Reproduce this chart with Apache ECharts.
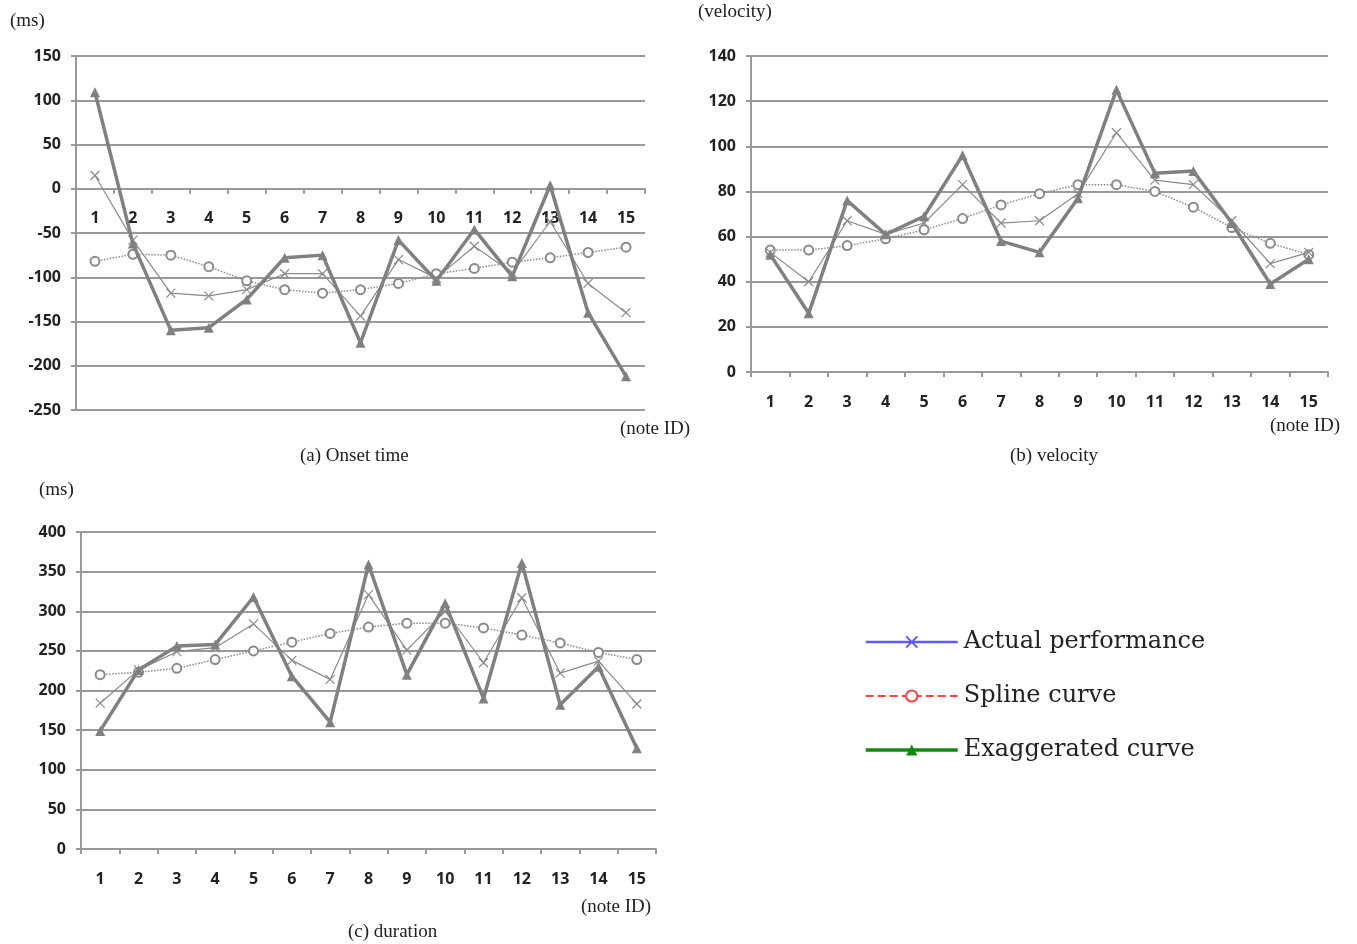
<!DOCTYPE html>
<html>
<head>
<meta charset="utf-8">
<title>Onset time, velocity and duration</title>
<script src="https://cdn.jsdelivr.net/npm/echarts@6/dist/echarts.min.js"></script>
<style>
    html, body { margin: 0; padding: 0; background: #fff; }
    #main_chart { width: 1357px; height: 944px; }
</style>
</head>
<body>
<div id="main_chart"></div>
<script>

// Data
// ------------------------------

var noteIds = ['1', '2', '3', '4', '5', '6', '7', '8', '9', '10', '11', '12', '13', '14', '15'];

// (a) onset time, ms
var onsetActual = [15, -58, -118, -121, -114, -96, -96, -144, -80, -101, -65, -95, -37, -107, -140];
var onsetSpline = [-82, -74, -75, -88, -104, -114, -118, -114, -107, -96, -90, -83, -78, -72, -66];
var onsetExagg  = [109, -62, -160, -157, -125, -78, -75, -174, -58, -104, -46, -99, 4, -140, -212];

// (b) velocity
var velActual = [53, 40, 67, 61, 66, 83, 66, 67, 79, 106, 85, 83, 67, 48, 53];
var velSpline = [54, 54, 56, 59, 63, 68, 74, 79, 83, 83, 80, 73, 64, 57, 52];
var velExagg  = [52, 26, 76, 61, 69, 96, 58, 53, 77, 125, 88, 89, 66, 39, 50];

// (c) duration, ms
var durActual = [184, 226, 249, 254, 284, 238, 214, 321, 251, 300, 235, 317, 222, 237, 183];
var durSpline = [220, 223, 228, 239, 250, 261, 272, 280, 285, 285, 279, 270, 260, 248, 239];
var durExagg  = [149, 226, 256, 258, 318, 218, 160, 359, 220, 310, 190, 361, 182, 230, 127];

var seriesNames = ['Actual performance', 'Spline curve', 'Exaggerated curve'];


// Setup
// ------------------------------

var chart = echarts.init(document.getElementById('main_chart'));

var gray = '#8a8a8a';
var crossPath = 'path://M0,0L10,10M10,0L0,10';
var tickFont = { fontFamily: '"Noto Sans", Arial, sans-serif', fontWeight: 'bold', fontSize: 16, color: '#222' };
var serifFont = '"Liberation Serif", "DejaVu Serif", serif';

// Grid sizes
var grids = [
    { left: 76, top: 56, width: 569, height: 354 },
    { left: 751, top: 56, width: 577, height: 316 },
    { left: 81, top: 532, width: 575, height: 317 }
];

// Axis builders
var makeXAxis = function(gridIndex, offset) {
    return {
        type: 'category',
        gridIndex: gridIndex,
        data: noteIds,
        boundaryGap: true,
        offset: offset || 0,
        axisLine: { show: true, onZero: false, lineStyle: { color: '#999', width: 2 } },
        axisTick: { show: true, length: 5, lineStyle: { color: '#999', width: 2 } },
        axisLabel: Object.assign({ margin: 22, interval: 0 }, tickFont),
        splitLine: { show: false }
    };
};

var makeYAxis = function(gridIndex, min, max, interval) {
    return {
        type: 'value',
        gridIndex: gridIndex,
        min: min,
        max: max,
        interval: interval,
        axisLine: { show: true, lineStyle: { color: '#999', width: 2 } },
        axisTick: { show: true, length: 5, lineStyle: { color: '#999', width: 2 } },
        axisLabel: Object.assign({ margin: 15 }, tickFont),
        splitLine: { show: true, lineStyle: { color: '#999', width: 2 } }
    };
};

// Series builders
var makeSeries = function(idx, actual, spline, exagg) {
    return [{
        name: seriesNames[0],
        type: 'line',
        xAxisIndex: idx,
        yAxisIndex: idx,
        data: actual,
        symbol: crossPath,
        symbolSize: 9,
        showAllSymbol: true,
        lineStyle: { color: gray, width: 1.2 },
        itemStyle: { color: 'rgba(0,0,0,0)', borderColor: gray, borderWidth: 1.2 },
        z: 3
    }, {
        name: seriesNames[1],
        type: 'line',
        xAxisIndex: idx,
        yAxisIndex: idx,
        data: spline,
        symbol: 'emptyCircle',
        symbolSize: 9,
        showAllSymbol: true,
        lineStyle: { color: gray, width: 1.5, type: 'dotted' },
        itemStyle: { color: gray, borderWidth: 1.5 },
        z: 2
    }, {
        name: seriesNames[2],
        type: 'line',
        xAxisIndex: idx,
        yAxisIndex: idx,
        data: exagg,
        symbol: 'triangle',
        symbolSize: 10,
        showAllSymbol: true,
        lineStyle: { color: '#808080', width: 3.5 },
        itemStyle: { color: '#808080' },
        z: 4
    }];
};

// Caption text
var label = function(x, y, text) {
    return {
        type: 'text',
        left: x,
        top: y,
        style: {
            text: text,
            font: '19px ' + serifFont,
            fill: '#222'
        }
    };
};

// x axis of (a) sits on the zero line
var onsetOffset = -grids[0].height * 250 / 400;


// Options
// ------------------------------

chart.setOption({
    animation: false,
    backgroundColor: '#fff',

    grid: grids,

    xAxis: [makeXAxis(0, onsetOffset), makeXAxis(1), makeXAxis(2)],
    yAxis: [
        makeYAxis(0, -250, 150, 50),
        makeYAxis(1, 0, 140, 20),
        makeYAxis(2, 0, 400, 50)
    ],

    // Legend with its own colours
    legend: {
        orient: 'vertical',
        left: 859,
        top: 625,
        itemWidth: 92,
        itemHeight: 14,
        itemGap: 30,
        selectedMode: false,
        textStyle: { fontFamily: '"DejaVu Serif", serif', fontSize: 24, color: '#222', padding: [0, 0, 0, 1] },
        data: [{
            name: seriesNames[0],
            lineStyle: { color: '#5b5bff', width: 2.5, type: 'solid' },
            itemStyle: { color: 'rgba(0,0,0,0)', borderColor: '#5b5bff', borderWidth: 2 }
        }, {
            name: seriesNames[1],
            lineStyle: { color: '#ff4040', width: 2, type: 'dashed' },
            itemStyle: { color: '#ff4040', borderColor: '#ff4040', borderWidth: 2 }
        }, {
            name: seriesNames[2],
            lineStyle: { color: '#118811', width: 3.5, type: 'solid' },
            itemStyle: { color: '#118811' }
        }]
    },

    series: []
        .concat(makeSeries(0, onsetActual, onsetSpline, onsetExagg))
        .concat(makeSeries(1, velActual, velSpline, velExagg))
        .concat(makeSeries(2, durActual, durSpline, durExagg)),

    graphic: [
        label(10, 12, '(ms)'),
        label(620, 420, '(note ID)'),
        label(300, 447, '(a) Onset time'),
        label(698, 3, '(velocity)'),
        label(1270, 417, '(note ID)'),
        label(1010, 447, '(b) velocity'),
        label(39, 481, '(ms)'),
        label(581, 898, '(note ID)'),
        label(348, 923, '(c) duration')
    ]
});

</script>
</body>
</html>
